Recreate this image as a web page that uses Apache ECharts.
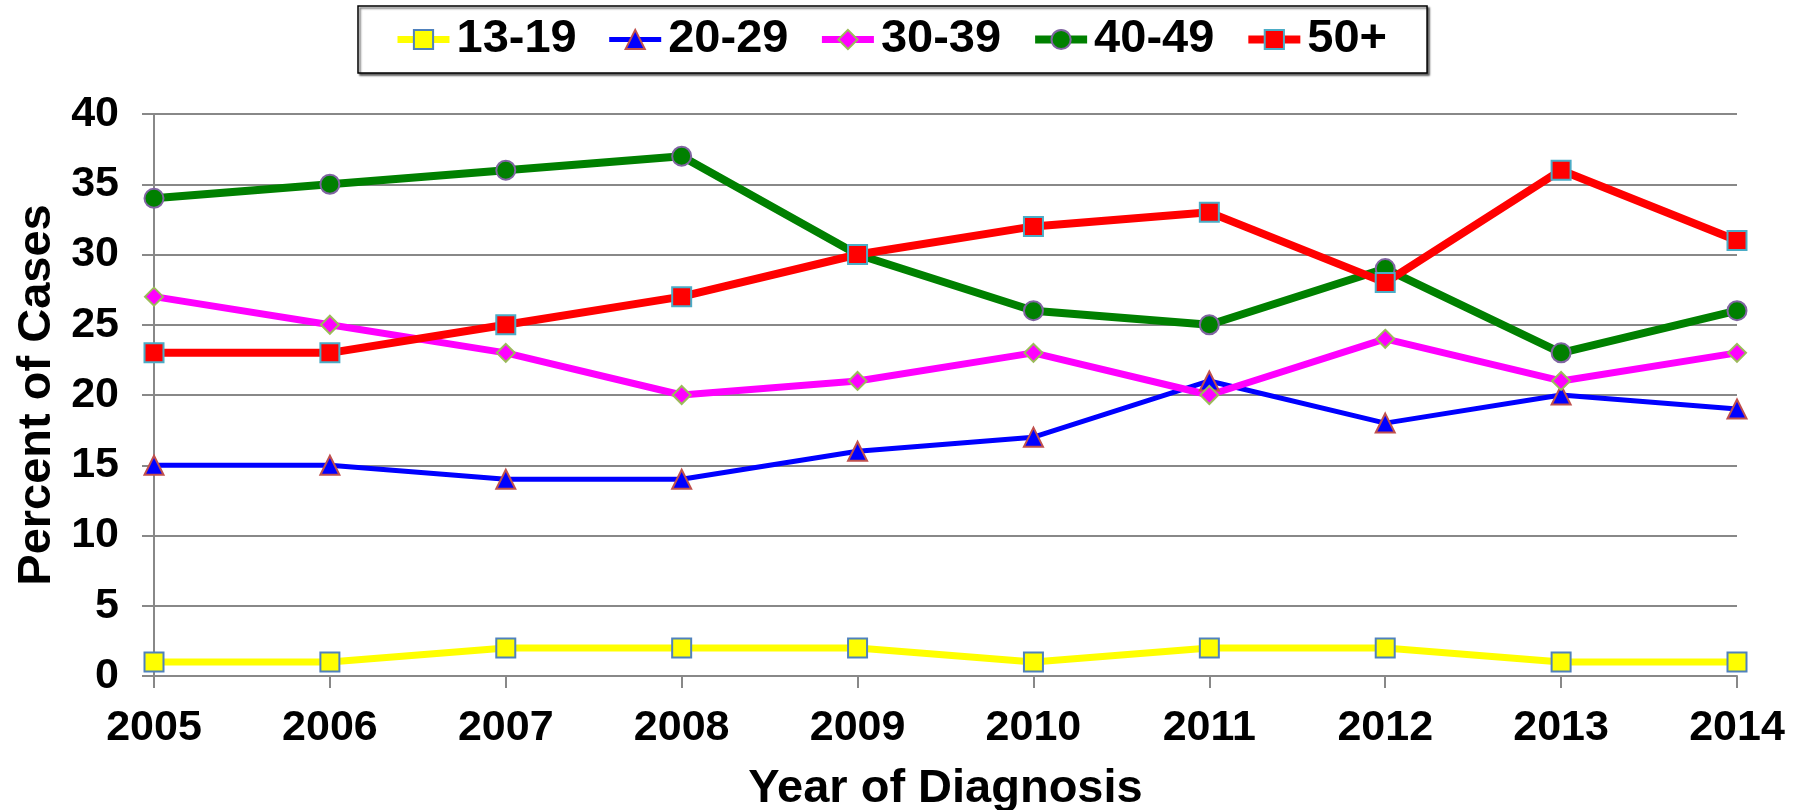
<!DOCTYPE html>
<html><head><meta charset="utf-8">
<script src="https://cdn.jsdelivr.net/npm/echarts@6/dist/echarts.min.js"></script>
<style>html,body{margin:0;padding:0;background:#fff}#c{width:1803px;height:810px}</style>
</head><body><div id="c"></div>
<script>
const years = ['2005','2006','2007','2008','2009','2010','2011','2012','2013','2014'];
const s1319 = [1,1,2,2,2,1,2,2,1,1];
const s2029 = [15,15,14,14,16,17,21,18,20,19];
const s3039 = [27,25,23,20,21,23,20,24,21,23];
const s4049 = [34,35,36,37,30,26,25,29,23,26];
const s50 = [23,23,25,27,30,32,33,28,36,31];
const FONT = "'Liberation Sans', Arial, sans-serif";
function ser(name, data, color, lw, symbol, size, border, bw){
  return {name, type:'line', data, symbol, symbolSize:size, showSymbol:true,
    lineStyle:{color, width:lw}, itemStyle:{color, borderColor:border, borderWidth:bw},
    emphasis:{disabled:true}, animation:false};
}
const chart = echarts.init(document.getElementById('c'));
chart.setOption({
  animation:false,
  legend:{
    left:358, top:6, padding:[10,40,10,36], itemGap:30, itemWidth:52, itemHeight:24,
    borderColor:'#000', borderWidth:1.5,
    shadowColor:'rgba(0,0,0,0.6)', shadowOffsetX:2, shadowOffsetY:2, shadowBlur:2,
    backgroundColor:'#fff',
    lineStyle:{width:'inherit'},
    textStyle:{fontFamily:FONT, fontWeight:'bold', fontSize:47, color:'#000', padding:[0,0,0,2]},
    data:['13-19','20-29','30-39','40-49','50+']
  },
  grid:{left:154, right:66, top:114, bottom:134, containLabel:false, outerBoundsMode:'none'},
  xAxis:{type:'category', data:years, boundaryGap:false,
    name:'Year of Diagnosis', nameLocation:'middle', nameGap:90,
    nameTextStyle:{fontFamily:FONT, fontWeight:'bold', fontSize:47, color:'#000'},
    axisLine:{lineStyle:{color:'#888', width:2}},
    axisTick:{show:true, length:12, lineStyle:{color:'#888', width:2}},
    axisLabel:{fontFamily:FONT, fontWeight:'bold', fontSize:43, color:'#000', margin:31},
    splitLine:{show:false}},
  yAxis:{type:'value', min:0, max:40, interval:5,
    name:'Percent of Cases', nameLocation:'middle', nameGap:92,
    nameTextStyle:{fontFamily:FONT, fontWeight:'bold', fontSize:47, color:'#000'},
    axisLine:{show:true, lineStyle:{color:'#888', width:2}},
    axisTick:{show:true, length:12, lineStyle:{color:'#888', width:2}},
    axisLabel:{fontFamily:FONT, fontWeight:'bold', fontSize:43, color:'#000', margin:35},
    splitLine:{show:true, lineStyle:{color:'#888', width:2}}},
  series:[
    ser('13-19', s1319, '#ffff00', 7, 'rect', 19, '#4f81bd', 2),
    ser('20-29', s2029, '#0000ff', 5, 'triangle', 19, '#c0504d', 2),
    ser('30-39', s3039, '#ff00ff', 7, 'diamond', 18, '#9bbb59', 2),
    ser('40-49', s4049, '#008000', 8, 'circle', 19, '#8064a2', 2),
    ser('50+', s50, '#ff0000', 8, 'rect', 19, '#4bacc6', 2)
  ]
});
</script></body></html>
